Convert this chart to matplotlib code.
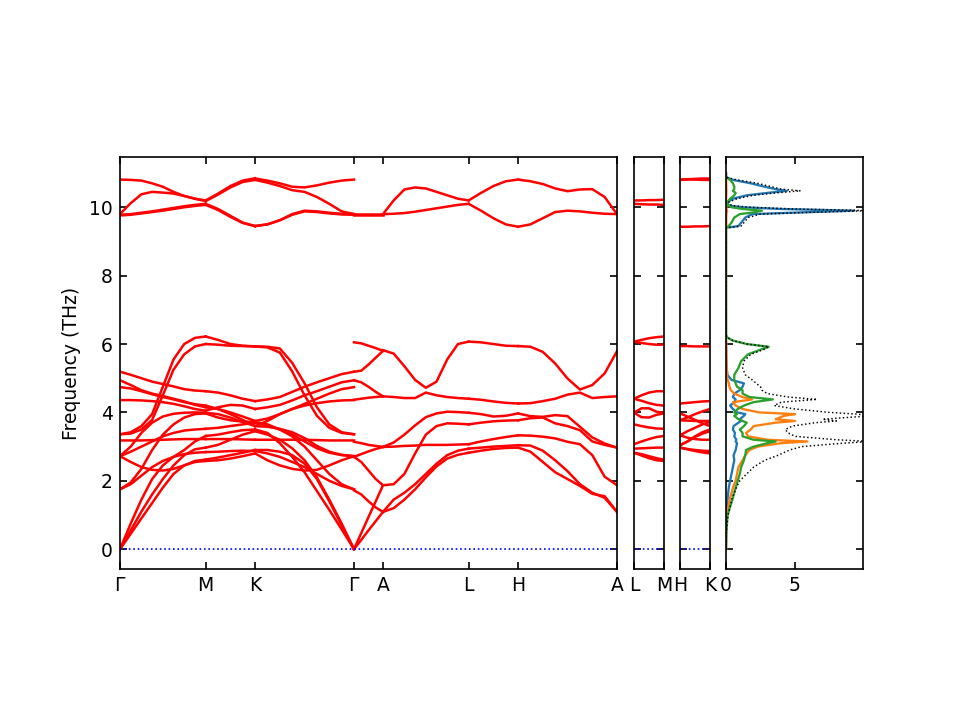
import numpy as np
import matplotlib
matplotlib.use('Agg')
import matplotlib.pyplot as plt

plt.rcParams['font.size'] = 9

# path: G-M-K-G-A-L-H-A | L-M | H-K   (distances, G-K = 1)
main_labels = ['$\\Gamma$', 'M', 'K', '$\\Gamma$', 'A', 'L', 'H', 'A']
main_dist = [0.0, 0.866, 1.366, 2.366, 2.659, 3.525, 4.025, 5.025]
short_len = 0.293

# frequencies (THz) sampled along each segment, one list per band
GM = [
    [10.81, 10.80, 10.78, 10.70, 10.60, 10.45, 10.33, 10.25, 10.20],
    [9.80, 10.12, 10.38, 10.45, 10.43, 10.40, 10.33, 10.25, 10.18],
    [9.78, 9.80, 9.84, 9.88, 9.93, 9.98, 10.03, 10.07, 10.10],
    [9.76, 9.78, 9.82, 9.86, 9.90, 9.95, 10.00, 10.04, 10.07],
    [5.19, 5.10, 5.00, 4.90, 4.83, 4.76, 4.68, 4.64, 4.62],
    [4.94, 4.80, 4.65, 4.55, 4.48, 4.40, 4.32, 4.22, 4.15],
    [4.74, 4.70, 4.62, 4.53, 4.45, 4.38, 4.30, 4.24, 4.20],
    [4.36, 4.36, 4.35, 4.33, 4.30, 4.25, 4.18, 4.10, 4.05],
    [3.36, 3.42, 3.60, 3.95, 4.75, 5.55, 6.00, 6.18, 6.22],
    [3.36, 3.38, 3.50, 3.78, 4.50, 5.25, 5.70, 5.93, 6.00],
    [3.18, 3.18, 3.18, 3.19, 3.20, 3.21, 3.22, 3.22, 3.22],
    [2.72, 3.00, 3.40, 3.70, 3.88, 3.96, 3.99, 4.00, 3.99],
    [2.72, 2.85, 3.00, 3.15, 3.30, 3.40, 3.47, 3.50, 3.52],
    [2.72, 2.55, 2.40, 2.32, 2.30, 2.35, 2.45, 2.55, 2.58],
    [1.75, 1.95, 2.35, 2.90, 3.35, 3.65, 3.85, 3.95, 3.97],
    [1.75, 1.90, 2.15, 2.40, 2.58, 2.70, 2.78, 2.82, 2.84],
    [0.00, 0.75, 1.45, 2.05, 2.45, 2.70, 2.90, 3.15, 3.31],
    [0.00, 0.55, 1.10, 1.60, 2.05, 2.45, 2.75, 2.92, 2.97],
    [0.00, 0.45, 0.90, 1.35, 1.80, 2.20, 2.45, 2.58, 2.62],
]
MK = [
    [10.20, 10.40, 10.62, 10.78, 10.85],
    [10.18, 10.37, 10.58, 10.74, 10.80],
    [10.10, 9.95, 9.75, 9.55, 9.45],
    [10.07, 9.92, 9.72, 9.54, 9.45],
    [4.62, 4.58, 4.50, 4.40, 4.33],
    [4.15, 4.10, 4.00, 3.88, 3.75],
    [4.20, 4.10, 3.95, 3.78, 3.60],
    [4.05, 4.15, 4.22, 4.20, 4.10],
    [6.22, 6.12, 6.00, 5.95, 5.93],
    [6.00, 5.98, 5.95, 5.94, 5.93],
    [3.22, 3.22, 3.22, 3.21, 3.20],
    [3.99, 3.95, 3.85, 3.72, 3.60],
    [3.52, 3.55, 3.60, 3.65, 3.70],
    [2.58, 2.60, 2.65, 2.72, 2.80],
    [3.97, 3.85, 3.77, 3.73, 3.72],
    [2.84, 2.85, 2.87, 2.88, 2.87],
    [3.31, 3.35, 3.42, 3.48, 3.50],
    [2.97, 3.05, 3.20, 3.35, 3.45],
    [2.62, 2.68, 2.75, 2.82, 2.90],
]
KG = [
    [10.84, 10.78, 10.70, 10.60, 10.58, 10.64, 10.72, 10.78, 10.81],
    [10.80, 10.72, 10.62, 10.50, 10.45, 10.30, 10.10, 9.88, 9.80],
    [9.45, 9.50, 9.62, 9.80, 9.90, 9.88, 9.84, 9.81, 9.80],
    [9.45, 9.50, 9.62, 9.78, 9.88, 9.86, 9.82, 9.79, 9.78],
    [4.33, 4.38, 4.45, 4.60, 4.75, 4.88, 5.00, 5.12, 5.19],
    [3.75, 3.82, 3.95, 4.10, 4.25, 4.40, 4.55, 4.68, 4.74],
    [3.60, 3.75, 3.95, 4.10, 4.20, 4.27, 4.32, 4.35, 4.36],
    [4.10, 4.15, 4.22, 4.35, 4.50, 4.62, 4.75, 4.88, 4.94],
    [5.93, 5.92, 5.87, 5.45, 4.85, 4.15, 3.65, 3.42, 3.36],
    [5.93, 5.90, 5.75, 5.20, 4.50, 3.90, 3.55, 3.40, 3.36],
    [3.20, 3.20, 3.20, 3.20, 3.20, 3.19, 3.18, 3.18, 3.18],
    [3.60, 3.58, 3.52, 3.42, 3.25, 3.02, 2.85, 2.76, 2.72],
    [3.70, 3.62, 3.50, 3.35, 3.15, 2.95, 2.82, 2.75, 2.72],
    [2.80, 2.60, 2.45, 2.35, 2.30, 2.32, 2.45, 2.60, 2.72],
    [3.72, 3.65, 3.50, 3.30, 3.00, 2.60, 2.20, 1.90, 1.75],
    [2.87, 2.80, 2.70, 2.55, 2.40, 2.20, 2.00, 1.85, 1.75],
    [3.50, 3.40, 3.10, 2.70, 2.25, 1.70, 1.15, 0.58, 0.00],
    [3.45, 3.35, 3.20, 2.95, 2.60, 2.10, 1.45, 0.75, 0.00],
    [2.90, 2.90, 2.85, 2.75, 2.50, 2.05, 1.40, 0.70, 0.00],
]
GA = [
    [9.80, 9.80, 9.80, 9.80, 9.80],
    [9.78, 9.78, 9.78, 9.78, 9.78],
    [6.05, 6.02, 5.95, 5.88, 5.80],
    [5.19, 5.22, 5.40, 5.60, 5.80],
    [4.94, 4.88, 4.75, 4.60, 4.47],
    [4.37, 4.40, 4.43, 4.45, 4.47],
    [3.14, 3.10, 3.05, 3.02, 2.99],
    [2.70, 2.78, 2.86, 2.93, 2.99],
    [2.70, 2.55, 2.30, 2.05, 1.87],
    [1.72, 1.60, 1.40, 1.22, 1.09],
    [0.00, 0.47, 0.94, 1.40, 1.87],
    [0.00, 0.27, 0.55, 0.82, 1.09],
]
AL = [
    [9.80, 10.20, 10.52, 10.58, 10.55, 10.45, 10.35, 10.25, 10.20],
    [9.80, 9.81, 9.83, 9.87, 9.92, 9.97, 10.02, 10.07, 10.10],
    [5.82, 5.72, 5.35, 4.95, 4.72, 4.90, 5.55, 6.00, 6.07],
    [4.47, 4.45, 4.42, 4.42, 4.58, 4.50, 4.45, 4.42, 4.40],
    [2.99, 3.00, 3.02, 3.03, 3.05, 3.05, 3.05, 3.06, 3.07],
    [2.99, 3.12, 3.35, 3.62, 3.86, 3.97, 4.02, 4.01, 3.99],
    [1.87, 1.90, 2.20, 2.80, 3.35, 3.60, 3.68, 3.67, 3.65],
    [1.09, 1.45, 1.65, 1.90, 2.20, 2.50, 2.75, 2.88, 2.94],
    [1.09, 1.20, 1.45, 1.75, 2.10, 2.42, 2.65, 2.76, 2.82],
]
LH = [
    [10.20, 10.42, 10.62, 10.76, 10.81],
    [10.10, 9.90, 9.68, 9.50, 9.43],
    [6.07, 6.05, 6.00, 5.95, 5.94],
    [4.40, 4.37, 4.32, 4.28, 4.26],
    [3.07, 3.15, 3.22, 3.28, 3.33],
    [3.99, 3.95, 3.88, 3.90, 3.97],
    [3.65, 3.70, 3.74, 3.76, 3.77],
    [2.94, 2.97, 3.00, 3.02, 3.04],
    [2.82, 2.88, 2.93, 2.96, 2.97],
]
HA = [
    [10.81, 10.76, 10.68, 10.55, 10.47, 10.52, 10.53, 10.30, 9.80],
    [9.43, 9.50, 9.68, 9.86, 9.90, 9.88, 9.84, 9.81, 9.80],
    [5.94, 5.92, 5.77, 5.43, 4.99, 4.67, 4.80, 5.14, 5.79],
    [4.26, 4.27, 4.33, 4.40, 4.52, 4.58, 4.42, 4.45, 4.47],
    [3.97, 3.89, 3.87, 3.92, 3.89, 3.58, 3.27, 3.09, 2.97],
    [3.77, 3.83, 3.85, 3.68, 3.60, 3.48, 3.15, 3.05, 2.97],
    [3.33, 3.32, 3.29, 3.24, 3.14, 3.07, 2.75, 2.12, 1.87],
    [3.04, 3.03, 2.88, 2.60, 2.28, 1.90, 1.65, 1.50, 1.09],
    [2.97, 2.85, 2.55, 2.25, 2.05, 1.85, 1.62, 1.55, 1.09],
]
LM = [
    [10.20, 10.20, 10.21, 10.21, 10.22],
    [10.10, 10.09, 10.08, 10.08, 10.07],
    [6.07, 6.12, 6.17, 6.20, 6.22],
    [6.07, 6.03, 6.00, 5.98, 5.98],
    [4.40, 4.50, 4.58, 4.62, 4.62],
    [4.40, 4.34, 4.27, 4.22, 4.20],
    [3.99, 4.12, 4.12, 4.02, 3.99],
    [3.99, 3.86, 3.85, 3.93, 3.97],
    [3.65, 3.60, 3.56, 3.53, 3.52],
    [3.07, 3.15, 3.22, 3.28, 3.31],
    [2.94, 2.95, 2.96, 2.97, 2.97],
    [2.82, 2.78, 2.72, 2.66, 2.62],
    [2.82, 2.74, 2.66, 2.60, 2.58],
]
HK = [
    [10.81, 10.82, 10.83, 10.84, 10.84],
    [10.81, 10.81, 10.81, 10.80, 10.80],
    [9.43, 9.43, 9.44, 9.44, 9.45],
    [5.94, 5.94, 5.93, 5.93, 5.93],
    [4.26, 4.28, 4.30, 4.32, 4.33],
    [3.97, 3.88, 3.78, 3.68, 3.60],
    [3.77, 3.85, 3.95, 4.03, 4.10],
    [3.77, 3.76, 3.75, 3.75, 3.75],
    [3.33, 3.45, 3.55, 3.65, 3.72],
    [3.33, 3.26, 3.22, 3.20, 3.20],
    [3.04, 3.15, 3.30, 3.42, 3.50],
    [3.04, 3.15, 3.28, 3.38, 3.45],
    [2.97, 2.93, 2.90, 2.88, 2.87],
    [2.97, 2.92, 2.87, 2.83, 2.80],
]

# projected DOS (states/THz) on a common frequency grid
dos_freq = [0.0, 0.5, 1.0, 1.5, 1.8, 2.0, 2.2, 2.4, 2.6, 2.75, 2.9, 3.0, 3.1,
            3.15, 3.2, 3.3, 3.4, 3.5, 3.6, 3.7, 3.75, 3.8, 3.9, 3.95, 4.0,
            4.1, 4.2, 4.3, 4.38, 4.45, 4.55, 4.65, 4.75, 4.85, 4.95, 5.1,
            5.3, 5.5, 5.7, 5.85, 5.92, 6.0, 6.1, 6.2, 6.3,
            9.3, 9.4, 9.45, 9.55, 9.7, 9.8, 9.85, 9.9, 9.95, 10.0, 10.05,
            10.15, 10.25, 10.35, 10.42, 10.48, 10.53, 10.6, 10.7, 10.8,
            10.88, 11.0]
pdos_1 = [0, 0.01, 0.05, 0.12, 0.2, 0.3, 0.4, 0.5, 0.6, 0.55, 0.7, 0.75, 0.8,
          0.7, 0.75, 0.6, 0.65, 0.5, 0.55, 0.9, 1.1, 1.0, 1.3, 1.4, 0.8,
          0.5, 0.3, 0.6, 0.7, 0.5, 0.6, 1.0, 1.2, 1.3, 0.4, 0.1,
          0.05, 0.02, 0.01, 0.01, 0.0, 0, 0, 0, 0,
          0, 0, 0.9, 1.1, 1.4, 1.9, 5.5, 9.3, 4.0, 1.2, 0.2,
          0.1, 0.5, 1.5, 3.0, 4.4, 3.6, 2.8, 1.8, 0.5,
          0, 0]
pdos_2 = [0, 0.02, 0.05, 0.3, 0.5, 0.7, 0.8, 0.9, 1.2, 1.4, 1.7, 2.3, 4.0,
          5.9, 3.0, 1.6, 1.45, 1.8, 2.0, 3.6, 5.0, 3.6, 4.2, 5.0, 2.4,
          1.2, 0.7, 0.5, 1.9, 1.2, 0.6, 0.35, 0.25, 0.2, 0.12, 0.08,
          0.05, 0.04, 0.03, 0.03, 0.02, 0.02, 0.01, 0, 0,
          0, 0, 0.02, 0.02, 0.02, 0.03, 0.05, 0.08, 0.05, 0.02, 0.01,
          0, 0.01, 0.02, 0.03, 0.03, 0.03, 0.02, 0.02, 0.01,
          0, 0]
pdos_3 = [0, 0.02, 0.12, 0.5, 0.7, 0.85, 1.0, 1.1, 1.3, 1.4, 1.45, 2.0, 3.0,
          3.6, 2.0, 1.2, 1.2, 1.0, 1.3, 1.5, 1.2, 0.9, 0.6, 0.8, 0.6,
          0.85, 1.3, 2.0, 3.4, 1.7, 1.2, 1.2, 0.8, 0.7, 0.6, 0.6,
          0.9, 1.1, 1.6, 2.6, 3.1, 1.5, 0.5, 0.05, 0,
          0, 0, 0.2, 0.4, 0.6, 1.0, 2.0, 2.6, 1.2, 0.4, 0.15,
          0.1, 0.3, 0.6, 0.7, 0.5, 0.6, 0.6, 0.5, 0.3,
          0, 0]
total_dos = [0, 0.02, 0.15, 0.45, 0.75, 1.0, 1.5, 2.0, 2.8, 3.8, 4.6, 5.5, 8.5,
             10.5, 8.0, 5.0, 4.5, 4.3, 4.8, 6.5, 8.0, 7.0, 10.5, 9.5, 7.5,
             5.0, 3.5, 4.0, 6.6, 4.5, 3.0, 2.6, 2.5, 2.2, 1.9, 1.4,
             1.2, 1.3, 1.8, 2.8, 3.1, 1.5, 0.5, 0.05, 0,
             0, 0, 1.1, 1.3, 1.6, 2.5, 6.0, 10.5, 5.0, 1.7, 0.4,
             0.2, 0.8, 2.0, 3.6, 5.4, 4.0, 3.3, 2.3, 0.8,
             0, 0]

ylim = (-0.58, 11.47)
W, H = 960.0, 720.0


def panel(x0, x1):
    return fig.add_axes([x0 / W, 1 - 569 / H, (x1 - x0) / W, 412 / H])


def style(ax):
    ax.tick_params(direction='in', top=True, right=True)
    ax.set_ylim(*ylim)
    ax.set_yticks([0, 2, 4, 6, 8, 10])


def draw_segment(ax, bands, xa, xb):
    for b in bands:
        q = np.linspace(xa, xb, len(b))
        ax.plot(q, b, 'r-', lw=1.2)


fig = plt.figure(figsize=(6.4, 4.8), dpi=150)

ax1 = panel(120, 617)
main_segments = [GM, MK, KG, GA, AL, LH, HA]
for i, seg in enumerate(main_segments):
    draw_segment(ax1, seg, main_dist[i], main_dist[i + 1])
ax1.axhline(0, ls=':', lw=0.8, color='b')
ax1.set_xlim(main_dist[0], main_dist[-1])
ax1.set_xticks(main_dist)
ax1.set_xticklabels(main_labels)
style(ax1)
ax1.set_ylabel('Frequency (THz)')

ax2 = panel(634, 664)
draw_segment(ax2, LM, 0, short_len)
ax2.axhline(0, ls=':', lw=0.8, color='b')
ax2.set_xlim(0, short_len)
ax2.set_xticks([0, short_len])
ax2.set_xticklabels(['L', 'M'])
style(ax2)
ax2.set_yticklabels([])

ax3 = panel(680, 710)
draw_segment(ax3, HK, 0, short_len)
ax3.axhline(0, ls=':', lw=0.8, color='b')
ax3.set_xlim(0, short_len)
ax3.set_xticks([0, short_len])
ax3.set_xticklabels(['H', 'K'])
style(ax3)
ax3.set_yticklabels([])

ax4 = panel(726, 863)
ax4.plot(pdos_1, dos_freq, color='C0', lw=1.1)
ax4.plot(pdos_2, dos_freq, color='C1', lw=1.1)
ax4.plot(pdos_3, dos_freq, color='C2', lw=1.1)
ax4.plot(total_dos, dos_freq, color='k', ls=':', lw=0.7)
ax4.set_xlim(0, 9.93)
ax4.set_xticks([0, 5])
style(ax4)
ax4.set_yticklabels([])

fig.savefig('out.png', dpi=150)
